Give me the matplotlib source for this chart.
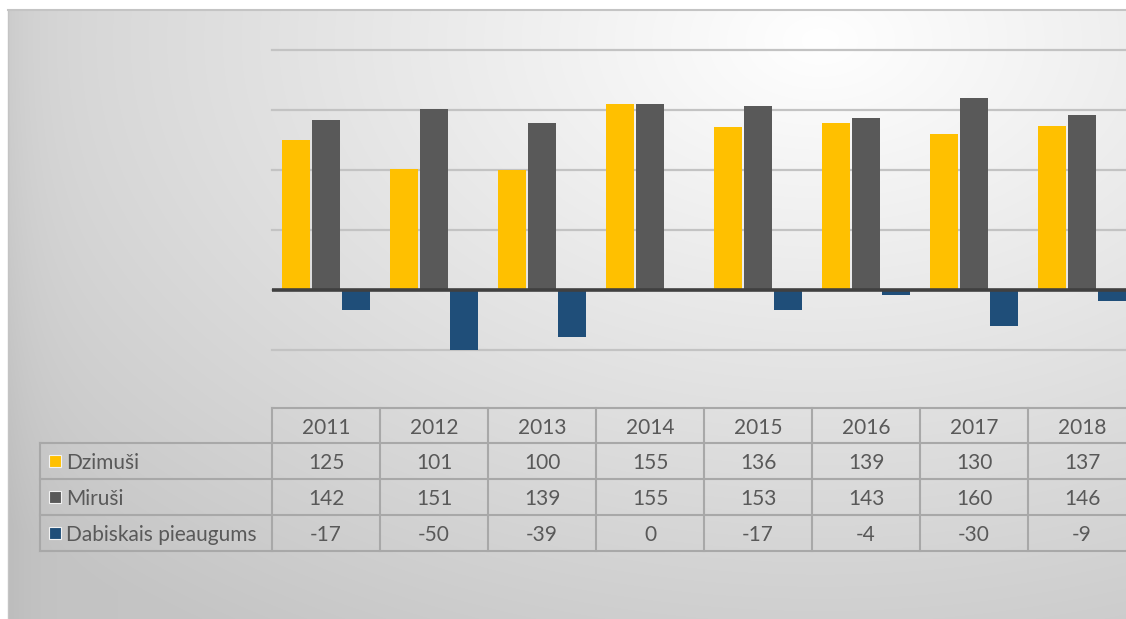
import numpy as np
import matplotlib
matplotlib.use("Agg")
import matplotlib.pyplot as plt
from matplotlib.lines import Line2D
from matplotlib.transforms import blended_transform_factory

# ---- data ----
years = ['2011', '2012', '2013', '2014', '2015', '2016', '2017', '2018']
dzimusi = [125, 101, 100, 155, 136, 139, 130, 137]
mirusi = [142, 151, 139, 155, 153, 143, 160, 146]
dabiskais = [-17, -50, -39, 0, -17, -4, -30, -9]
series_names = ['Dzimuši', 'Miruši', 'Dabiskais pieaugums']
colors = ['#FFC000', '#595959', '#1F4E79']

plt.rcParams['font.family'] = ['Lato', 'DejaVu Sans']

W, H = 1126, 619
fig = plt.figure(figsize=(W / 100, H / 100), dpi=100)
fig.patch.set_facecolor('white')

# ---- background (radial gradient chart area) ----
bx0, by0 = 8, 10
bg = fig.add_axes([bx0 / W, 0, 1 - bx0 / W, 1 - by0 / H], zorder=-10)
hh, ww = H - by0, W - bx0
yy, xx = np.mgrid[0:hh, 0:ww]
X = xx + bx0
Y = yy + by0
r = np.sqrt(((X - 820) / 1000.0) ** 2 + ((Y - 40) / 650.0) ** 2)
v = 1 - 0.21 * np.clip(r, 0, 1.1)
# slight darkening right at the left edge
v = v - 0.03 * np.exp(-(X - bx0) / 25.0)
img = np.dstack([v, v, v])
bg.imshow(img, aspect='auto', extent=[0, 1, 0, 1], origin='upper', interpolation='bilinear')
bg.set_axis_off()
fig.add_artist(Line2D([bx0 / W, 1], [1 - by0 / H] * 2, transform=fig.transFigure,
                      color='#C4C4C4', lw=1.5))
fig.add_artist(Line2D([bx0 / W] * 2, [0, 1 - by0 / H], transform=fig.transFigure,
                      color='#C4C4C4', lw=1.0))

# ---- main axes ----
ax = fig.add_axes([272 / W, 1 - 350 / H, 864 / W, 300 / H])
ax.set_xlim(-0.5, 7.5)
ax.set_ylim(-50, 200)
ax.patch.set_visible(False)
for s in ax.spines.values():
    s.set_visible(False)
ax.set_xticks([])
ax.set_yticks(np.arange(-50, 201, 50))
ax.tick_params(left=False, labelleft=False)
ax.yaxis.grid(True, color='#C3C3C3', lw=1.6, zorder=0)
ax.set_axisbelow(True)
for gl in ax.get_ygridlines():
    gl.set_clip_on(False)

x = np.arange(len(years))
for k, (vals, c) in enumerate(zip([dzimusi, mirusi, dabiskais], colors)):
    ax.bar(x + (k - 1) * 0.275, vals, width=0.26, color=c, zorder=3)
ax.axhline(0, color='#404040', lw=2.6, zorder=4)

# ---- data table ----
tb = blended_transform_factory(ax.transData, fig.transFigure)
tf = fig.transFigure


def fy(p):
    return 1 - p / H


rows_y = [408, 443, 479, 515, 551]
lkw = dict(color='#A8A8A8', lw=1.5)
fig.add_artist(Line2D([-0.5, 8], [fy(rows_y[0])] * 2, transform=tb, **lkw))
for p in rows_y[1:]:
    fig.add_artist(Line2D([40 / W, 1.0], [fy(p)] * 2, transform=tf, **lkw))
fig.add_artist(Line2D([40 / W] * 2, [fy(rows_y[1]), fy(rows_y[-1])], transform=tf, **lkw))
for i in range(len(years)):
    fig.add_artist(Line2D([i - 0.5] * 2, [fy(rows_y[0]), fy(rows_y[-1])], transform=tb, **lkw))

tcol = '#595959'
fs = 15
for i, yr in enumerate(years):
    fig.text(i, fy((rows_y[0] + rows_y[1]) / 2), yr, transform=tb, ha='center',
             va='center_baseline', color=tcol, fontsize=fs)

for ri, (name, vals, c) in enumerate(zip(series_names, [dzimusi, mirusi, dabiskais], colors)):
    yc = fy((rows_y[ri + 1] + rows_y[ri + 2]) / 2)
    fig.add_artist(Line2D([55 / W], [yc], marker='s', ms=8, color=c, mec='#F2F2F2',
                          mew=0.8, transform=tf, linestyle='none'))
    fig.text(66 / W, yc, name, transform=tf, ha='left', va='center_baseline',
             color=tcol, fontsize=fs)
    for i, val in enumerate(vals):
        fig.text(i, yc, str(val), transform=tb, ha='center', va='center_baseline',
                 color=tcol, fontsize=fs)

fig.savefig('out.png', dpi=100)
